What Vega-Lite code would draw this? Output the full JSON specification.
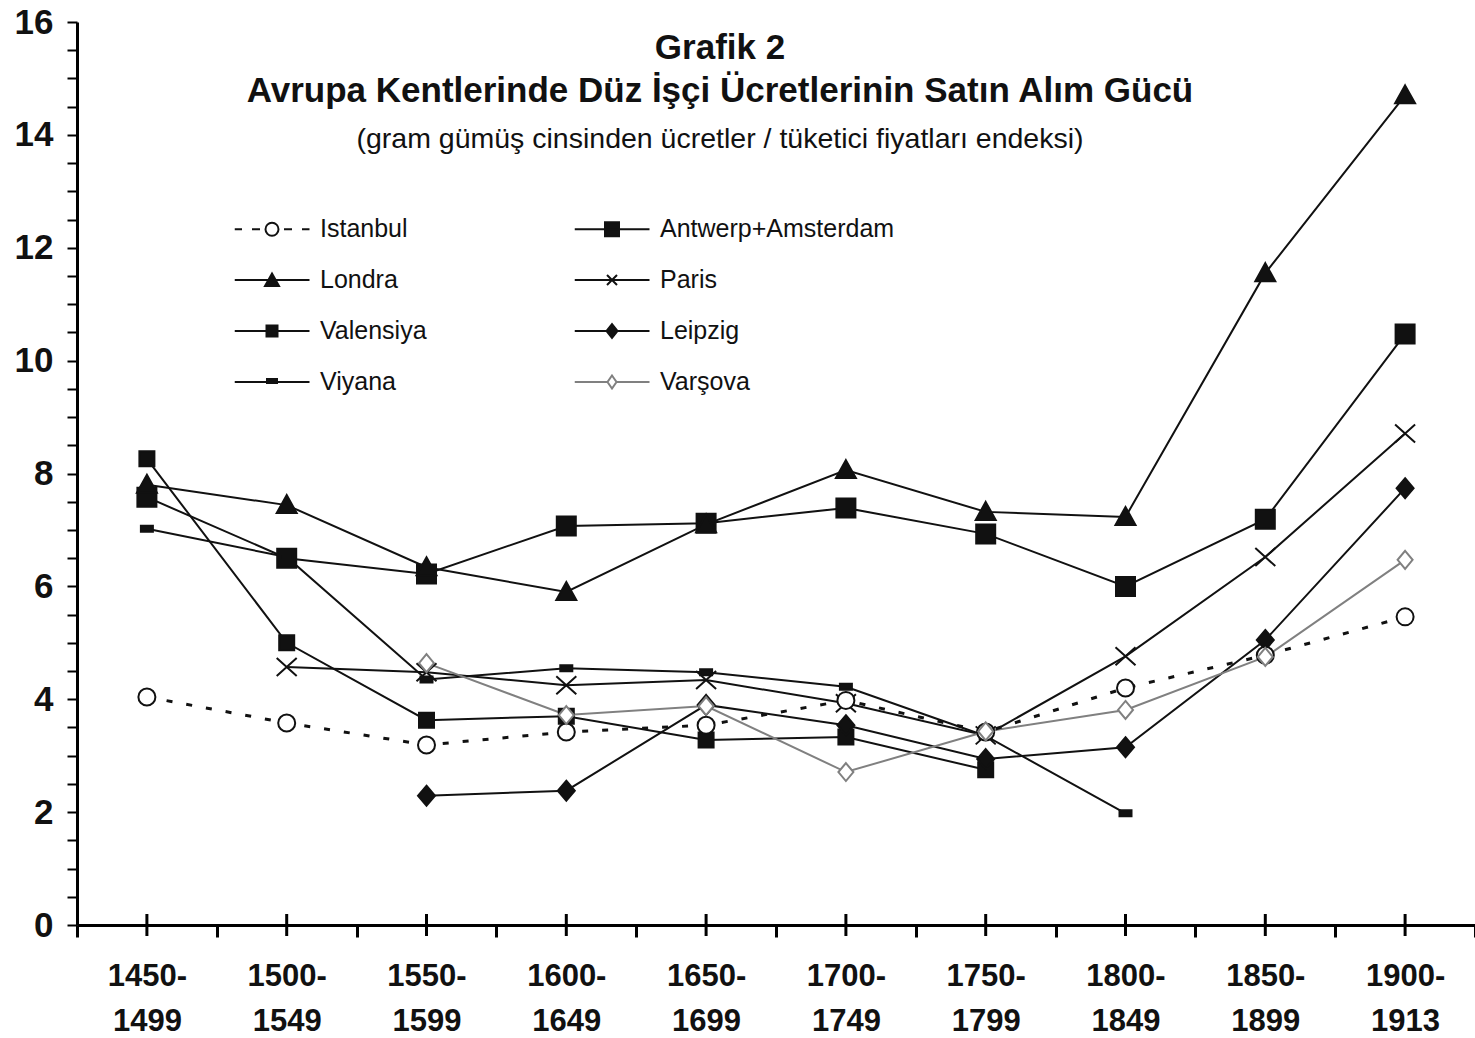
{
  "$schema": "https://vega.github.io/schema/vega-lite/v6.json",
  "width": 1398,
  "height": 903,
  "autosize": "none",
  "padding": {"left": 77, "top": 22, "right": 0, "bottom": 113},
  "background": "white",
  "config": {"view": {"stroke": null}, "font": "Liberation Sans"},
  "title": {
    "text": ["Grafik 2", "Avrupa Kentlerinde Düz İşçi Ücretlerinin Satın Alım Gücü"],
    "subtitle": "(gram gümüş cinsinden ücretler / tüketici fiyatları endeksi)",
    "anchor": "middle",
    "frame": "group",
    "orient": "top",
    "dx": -56,
    "offset": -148,
    "font": "Liberation Sans",
    "fontSize": 35,
    "fontWeight": "bold",
    "lineHeight": 43,
    "color": "#111",
    "subtitleFont": "Liberation Sans",
    "subtitleFontSize": 28.5,
    "subtitleColor": "#111",
    "subtitlePadding": 16
  },
  "datasets": {
    "wages": [
      {"city": "Istanbul", "period": "1450-1499", "value": 4.04},
      {"city": "Istanbul", "period": "1500-1549", "value": 3.58},
      {"city": "Istanbul", "period": "1550-1599", "value": 3.19},
      {"city": "Istanbul", "period": "1600-1649", "value": 3.42},
      {"city": "Istanbul", "period": "1650-1699", "value": 3.54},
      {"city": "Istanbul", "period": "1700-1749", "value": 3.98},
      {"city": "Istanbul", "period": "1750-1799", "value": 3.42},
      {"city": "Istanbul", "period": "1800-1849", "value": 4.2},
      {"city": "Istanbul", "period": "1850-1899", "value": 4.78},
      {"city": "Istanbul", "period": "1900-1913", "value": 5.46},
      {"city": "Antwerp+Amsterdam", "period": "1450-1499", "value": 7.58},
      {"city": "Antwerp+Amsterdam", "period": "1500-1549", "value": 6.5},
      {"city": "Antwerp+Amsterdam", "period": "1550-1599", "value": 6.22},
      {"city": "Antwerp+Amsterdam", "period": "1600-1649", "value": 7.07},
      {"city": "Antwerp+Amsterdam", "period": "1650-1699", "value": 7.12},
      {"city": "Antwerp+Amsterdam", "period": "1700-1749", "value": 7.39},
      {"city": "Antwerp+Amsterdam", "period": "1750-1799", "value": 6.93},
      {"city": "Antwerp+Amsterdam", "period": "1800-1849", "value": 6.0},
      {"city": "Antwerp+Amsterdam", "period": "1850-1899", "value": 7.19},
      {"city": "Antwerp+Amsterdam", "period": "1900-1913", "value": 10.47},
      {"city": "Londra", "period": "1450-1499", "value": 7.8},
      {"city": "Londra", "period": "1500-1549", "value": 7.44},
      {"city": "Londra", "period": "1550-1599", "value": 6.34},
      {"city": "Londra", "period": "1600-1649", "value": 5.9},
      {"city": "Londra", "period": "1650-1699", "value": 7.1},
      {"city": "Londra", "period": "1700-1749", "value": 8.06},
      {"city": "Londra", "period": "1750-1799", "value": 7.32},
      {"city": "Londra", "period": "1800-1849", "value": 7.23},
      {"city": "Londra", "period": "1850-1899", "value": 11.55},
      {"city": "Londra", "period": "1900-1913", "value": 14.7},
      {"city": "Paris", "period": "1500-1549", "value": 4.57},
      {"city": "Paris", "period": "1550-1599", "value": 4.48},
      {"city": "Paris", "period": "1600-1649", "value": 4.25},
      {"city": "Paris", "period": "1650-1699", "value": 4.34},
      {"city": "Paris", "period": "1700-1749", "value": 3.93},
      {"city": "Paris", "period": "1750-1799", "value": 3.36},
      {"city": "Paris", "period": "1800-1849", "value": 4.76},
      {"city": "Paris", "period": "1850-1899", "value": 6.52},
      {"city": "Paris", "period": "1900-1913", "value": 8.71},
      {"city": "Valensiya", "period": "1450-1499", "value": 8.26},
      {"city": "Valensiya", "period": "1500-1549", "value": 5.0},
      {"city": "Valensiya", "period": "1550-1599", "value": 3.63},
      {"city": "Valensiya", "period": "1600-1649", "value": 3.7},
      {"city": "Valensiya", "period": "1650-1699", "value": 3.28},
      {"city": "Valensiya", "period": "1700-1749", "value": 3.33},
      {"city": "Valensiya", "period": "1750-1799", "value": 2.75},
      {"city": "Leipzig", "period": "1550-1599", "value": 2.29},
      {"city": "Leipzig", "period": "1600-1649", "value": 2.38},
      {"city": "Leipzig", "period": "1650-1699", "value": 3.9},
      {"city": "Leipzig", "period": "1700-1749", "value": 3.54},
      {"city": "Leipzig", "period": "1750-1799", "value": 2.94},
      {"city": "Leipzig", "period": "1800-1849", "value": 3.15},
      {"city": "Leipzig", "period": "1850-1899", "value": 5.05},
      {"city": "Leipzig", "period": "1900-1913", "value": 7.74},
      {"city": "Viyana", "period": "1450-1499", "value": 7.02},
      {"city": "Viyana", "period": "1500-1549", "value": 6.52},
      {"city": "Viyana", "period": "1550-1599", "value": 4.35},
      {"city": "Viyana", "period": "1600-1649", "value": 4.55},
      {"city": "Viyana", "period": "1650-1699", "value": 4.48},
      {"city": "Viyana", "period": "1700-1749", "value": 4.22},
      {"city": "Viyana", "period": "1750-1799", "value": 3.35},
      {"city": "Viyana", "period": "1800-1849", "value": 1.98},
      {"city": "Varşova", "period": "1550-1599", "value": 4.64},
      {"city": "Varşova", "period": "1600-1649", "value": 3.72},
      {"city": "Varşova", "period": "1650-1699", "value": 3.88},
      {"city": "Varşova", "period": "1700-1749", "value": 2.71},
      {"city": "Varşova", "period": "1750-1799", "value": 3.43},
      {"city": "Varşova", "period": "1800-1849", "value": 3.81},
      {"city": "Varşova", "period": "1850-1899", "value": 4.75},
      {"city": "Varşova", "period": "1900-1913", "value": 6.47}
    ]
  },
  "data": {"name": "wages"},
  "encoding": {
    "x": {
      "field": "period",
      "type": "ordinal",
      "scale": {"type": "band", "paddingInner": 0, "paddingOuter": 0},
      "axis": {
        "title": null,
        "labelAngle": 0,
        "tickBand": "extent",
        "tickSize": 12,
        "tickWidth": 3,
        "tickColor": "#000",
        "domainWidth": 3,
        "domainColor": "#000",
        "labelFont": "Liberation Sans",
        "labelFontWeight": "bold",
        "labelFontSize": 31,
        "labelColor": "#111",
        "labelLineHeight": 45,
        "labelPadding": 24,
        "labelExpr": "[slice(datum.label, 0, 5), slice(datum.label, 5)]"
      }
    },
    "y": {
      "field": "value",
      "type": "quantitative",
      "scale": {"domain": [0, 16], "nice": false},
      "axis": {
        "title": null,
        "grid": false,
        "values": [0, 0.5, 1, 1.5, 2, 2.5, 3, 3.5, 4, 4.5, 5, 5.5, 6, 6.5, 7, 7.5, 8, 8.5, 9, 9.5, 10, 10.5, 11, 11.5, 12, 12.5, 13, 13.5, 14, 14.5, 15, 15.5, 16],
        "labelExpr": "datum.value % 2 == 0 ? format(datum.value, 'd') : ''",
        "labelFlush": false,
        "labelOverlap": false,
        "tickSize": 10,
        "tickWidth": 2,
        "tickColor": "#000",
        "domainWidth": 3,
        "domainColor": "#000",
        "labelFont": "Liberation Sans",
        "labelFontWeight": "bold",
        "labelFontSize": 35,
        "labelColor": "#111",
        "labelPadding": 14
      }
    }
  },
  "resolve": {"scale": {"shape": "independent", "fill": "independent", "stroke": "independent"}},
  "layer": [
    {
      "transform": [{"filter": "datum.city != 'Istanbul' && datum.city != 'Varşova'"}],
      "mark": {"type": "line", "strokeWidth": 2, "color": "#111"},
      "encoding": {"detail": {"field": "city", "type": "nominal"}}
    },
    {
      "transform": [{"filter": "datum.city == 'Varşova'"}],
      "mark": {"type": "line", "strokeWidth": 2, "color": "#808080"},
      "encoding": {}
    },
    {
      "transform": [{"filter": "datum.city == 'Istanbul'"}],
      "mark": {"type": "line", "strokeWidth": 3, "strokeDash": [6, 14], "color": "#111"},
      "encoding": {}
    },
    {
      "transform": [{"filter": "indexof(['Antwerp+Amsterdam', 'Londra', 'Valensiya', 'Leipzig', 'Viyana'], datum.city) >= 0"}],
      "mark": {"type": "point", "filled": true, "opacity": 1, "size": 4, "strokeWidth": 2, "fill": "#111", "stroke": "#111"},
      "encoding": {
        "shape": {
          "field": "city",
          "type": "nominal",
          "scale": {
            "domain": ["Antwerp+Amsterdam", "Londra", "Valensiya", "Leipzig", "Viyana"],
            "range": ["M-9.5,-9.5H9.5V9.5H-9.5Z", "M0,-10L10,8H-10Z", "M-7.5,-7.5H7.5V7.5H-7.5Z", "M0,-10L8.5,0L0,10L-8.5,0Z", "M-6,-3H6V3H-6Z"]
          },
          "legend": null
        }
      }
    },
    {
      "transform": [{"filter": "datum.city == 'Paris'"}],
      "mark": {"type": "point", "shape": "M-10,-9L10,9M-10,9L10,-9", "opacity": 1, "size": 4, "strokeWidth": 2, "fill": "transparent", "stroke": "#111"},
      "encoding": {}
    },
    {
      "transform": [{"filter": "datum.city == 'Istanbul'"}],
      "mark": {"type": "point", "shape": "M-8.5,0A8.5,8.5 0 1,0 8.5,0A8.5,8.5 0 1,0 -8.5,0Z", "opacity": 1, "size": 4, "strokeWidth": 2, "fill": "white", "stroke": "#111"},
      "encoding": {}
    },
    {
      "transform": [{"filter": "datum.city == 'Varşova'"}],
      "mark": {"type": "point", "shape": "M0,-9L7.5,0L0,9L-7.5,0Z", "opacity": 1, "size": 4, "strokeWidth": 2, "fill": "white", "stroke": "#808080"},
      "encoding": {}
    },
    {
      "transform": [{"filter": "datum.value < 0"}],
      "mark": {"type": "point", "filled": true, "opacity": 1, "size": 4, "strokeWidth": 2},
      "encoding": {
        "fill": {
          "field": "city",
          "type": "nominal",
          "scale": {
            "domain": ["Istanbul", "Antwerp+Amsterdam", "Londra", "Paris", "Valensiya", "Leipzig", "Viyana", "Varşova"],
            "range": ["white", "#111", "#111", "transparent", "#111", "#111", "#111", "white"]
          }
        },
        "stroke": {
          "field": "city",
          "type": "nominal",
          "scale": {
            "domain": ["Istanbul", "Antwerp+Amsterdam", "Londra", "Paris", "Valensiya", "Leipzig", "Viyana", "Varşova"],
            "range": ["#111", "#111", "#111", "#111", "#111", "#111", "#111", "#808080"]
          }
        },
        "shape": {
          "field": "city",
          "type": "nominal",
          "scale": {
            "domain": ["Istanbul", "Antwerp+Amsterdam", "Londra", "Paris", "Valensiya", "Leipzig", "Viyana", "Varşova"],
            "range": [
              "M-37.5,0H-30M-20,0H-12M12,0H20M30,0H37.5M-6.5,0A6.5,6.5 0 1,0 6.5,0A6.5,6.5 0 1,0 -6.5,0Z",
              "M-37.5,0H37.5M-7,-7H7V7H-7Z",
              "M-37.5,0H37.5M0,-6.5L7,6H-7Z",
              "M-37.5,0H37.5M-5,-5L5,5M-5,5L5,-5",
              "M-37.5,0H37.5M-5.5,-5.5H5.5V5.5H-5.5Z",
              "M-37.5,0H37.5M0,-7L5.5,0L0,7L-5.5,0Z",
              "M-37.5,0H37.5M-5,-3H5V1H-5Z",
              "M-37.5,0H-4.5M4.5,0H37.5M0,-6.5L4.5,0L0,6.5L-4.5,0Z"
            ]
          },
          "legend": {
            "title": null,
            "orient": "none",
            "direction": "horizontal",
            "legendX": 157.5,
            "legendY": 194.5,
            "columns": 2,
            "columnPadding": 147,
            "rowPadding": 25,
            "padding": 0,
            "clipHeight": 25,
            "symbolOffset": 25,
            "labelOffset": 35.5,
            "labelLimit": 400,
            "labelFont": "Liberation Sans",
            "labelFontSize": 25,
            "labelColor": "#111",
            "symbolStrokeWidth": 2,
            "symbolSize": 4
          }
        }
      }
    },
    {
      "transform": [{"filter": "datum.city == 'Istanbul'"}],
      "mark": {"type": "tick", "orient": "vertical", "size": 22, "thickness": 3, "color": "#000", "opacity": 1},
      "encoding": {
        "y": {"datum": 0}
      }
    }
  ]
}
